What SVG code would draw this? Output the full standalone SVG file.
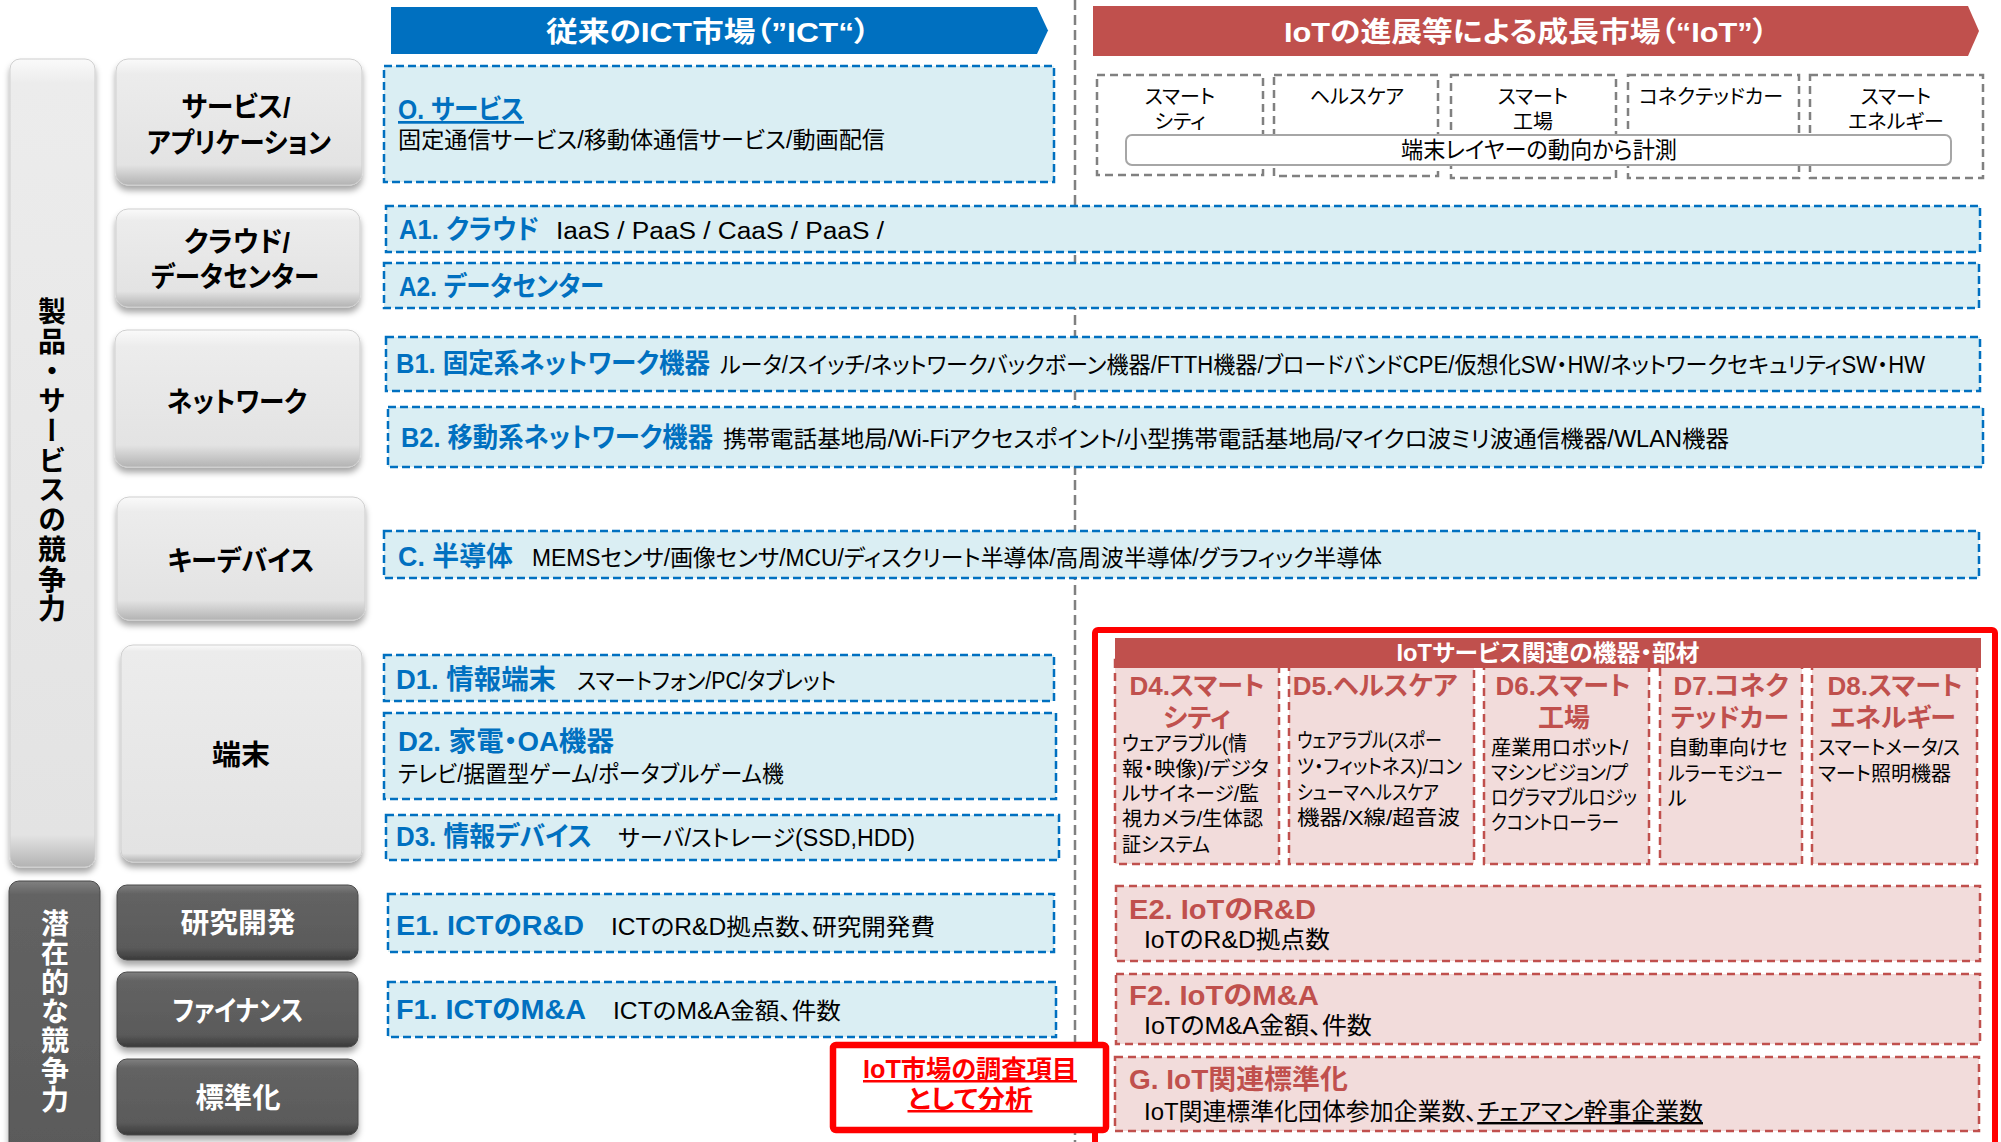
<svg xmlns="http://www.w3.org/2000/svg" width="2001" height="1142" viewBox="0 0 2001 1142">
<defs>
<linearGradient id="gL" x1="0" y1="0" x2="0" y2="1">
<stop offset="0" stop-color="#fafafa"/><stop offset="0.12" stop-color="#ececec"/><stop offset="0.84" stop-color="#e3e3e3"/><stop offset="1" stop-color="#b3b3b3"/>
</linearGradient>
<linearGradient id="gLT" x1="0" y1="0" x2="0" y2="1">
<stop offset="0" stop-color="#fafafa"/><stop offset="0.03" stop-color="#ececec"/><stop offset="0.96" stop-color="#e3e3e3"/><stop offset="1" stop-color="#b3b3b3"/>
</linearGradient>
<linearGradient id="gD" x1="0" y1="0" x2="0" y2="1">
<stop offset="0" stop-color="#808080"/><stop offset="0.12" stop-color="#636363"/><stop offset="0.84" stop-color="#5a5a5a"/><stop offset="1" stop-color="#3a3a3a"/>
</linearGradient>
<linearGradient id="gDT" x1="0" y1="0" x2="0" y2="1">
<stop offset="0" stop-color="#808080"/><stop offset="0.05" stop-color="#636363"/><stop offset="1" stop-color="#5a5a5a"/>
</linearGradient>
<filter id="sh" x="-10%" y="-10%" width="120%" height="130%">
<feDropShadow dx="0" dy="5" stdDeviation="3" flood-color="#000" flood-opacity="0.35"/>
</filter>
</defs>
<style>
text{font-family:"Liberation Sans","Noto Sans CJK JP",sans-serif;font-feature-settings:"palt";}
.lbl{font-size:28px;font-weight:700;text-anchor:middle;fill:#000}
.lblw{font-size:28px;font-weight:700;text-anchor:middle;fill:#fff}
.vt{font-family:"Noto Sans CJK JP",sans-serif;writing-mode:vertical-rl;font-feature-settings:normal;text-anchor:middle;font-size:28px;font-weight:700}
.btnL{fill:url(#gL);stroke:#cfcfcf;stroke-width:1;filter:url(#sh)}
.btnLT{fill:url(#gLT);stroke:#cfcfcf;stroke-width:1;filter:url(#sh)}
.btnD{fill:url(#gD);stroke:#4a4a4a;stroke-width:1;filter:url(#sh)}
.bb{fill:#DAEEF3;stroke:#0070C0;stroke-width:2.5;stroke-dasharray:8 4}
.pb{fill:#F2DCDB;stroke:#C0504D;stroke-width:2.5;stroke-dasharray:8 5}
.gb{fill:#fff;stroke:#808080;stroke-width:2.5;stroke-dasharray:8 5}
.bt{font-size:27px;font-weight:700;fill:#0070C0}
.bd{font-size:23px;fill:#000}
.rt{font-size:27px;font-weight:700;fill:#C0504D}
.rtc{font-size:26px;font-weight:700;fill:#C0504D;text-anchor:middle}
.rd{font-size:24px;fill:#000}
.db{font-size:20px;fill:#000}
.cat{font-size:20px;text-anchor:middle;fill:#000}
.hd{font-size:28px;font-weight:700;fill:#fff;text-anchor:middle}
.ul{text-decoration:underline}
</style>
<rect x="0" y="0" width="2001" height="1142" fill="#fff"/>

<g id="divider">
<line x1="1075" y1="0" x2="1075" y2="1142" stroke="#808080" stroke-width="2.5" stroke-dasharray="10 5"/>
</g>

<g id="header-ict">
<polygon points="391,7 1037,7 1048,30.5 1037,54 391,54" fill="#0070C0"/>
<text class="hd" x="708" y="42" textLength="324" lengthAdjust="spacingAndGlyphs">従来のICT市場（”ICT“）</text>
</g>
<g id="header-iot">
<polygon points="1093,6 1968,6 1979,31 1968,56 1093,56" fill="#C0504D"/>
<text class="hd" x="1526" y="42" textLength="484" lengthAdjust="spacingAndGlyphs">IoTの進展等による成長市場（“IoT”）</text>
</g>

<g id="cat-products">
<rect class="btnLT" x="10" y="59" width="85" height="808" rx="10"/>
<text class="vt" x="52" y="461" style="letter-spacing:1.7px">製品・サービスの競争力</text>
</g>
<g id="cat-potential">
<rect class="btnD" x="9" y="881" width="91" height="275" rx="10" style="fill:url(#gDT)"/>
<text class="vt" x="55" y="1012" fill="#fff" style="letter-spacing:1.3px">潜在的な競争力</text>
</g>

<g id="lbl-service">
<rect class="btnL" x="116" y="59" width="246" height="126" rx="12"/>
<text class="lbl" x="236" y="117" textLength="109" lengthAdjust="spacingAndGlyphs">サービス/</text>
<text class="lbl" x="239" y="153" textLength="184" lengthAdjust="spacingAndGlyphs">アプリケーション</text>
</g>
<g id="lbl-cloud">
<rect class="btnL" x="116" y="209" width="244" height="98" rx="12"/>
<text class="lbl" x="237" y="252" textLength="106" lengthAdjust="spacingAndGlyphs">クラウド/</text>
<text class="lbl" x="235" y="287" textLength="168" lengthAdjust="spacingAndGlyphs">データセンター</text>
</g>
<g id="lbl-network">
<rect class="btnL" x="115" y="330" width="245" height="137" rx="12"/>
<text class="lbl" x="237" y="412" textLength="140" lengthAdjust="spacingAndGlyphs">ネットワーク</text>
</g>
<g id="lbl-keydevice">
<rect class="btnL" x="117" y="497" width="248" height="123" rx="12"/>
<text class="lbl" x="241" y="571" textLength="147" lengthAdjust="spacingAndGlyphs">キーデバイス</text>
</g>
<g id="lbl-terminal">
<rect class="btnLT" x="121" y="645" width="241" height="217" rx="12"/>
<text class="lbl" x="241" y="765" textLength="58" lengthAdjust="spacingAndGlyphs">端末</text>
</g>
<g id="lbl-rd">
<rect class="btnD" x="117" y="885" width="241" height="75" rx="10"/>
<text class="lblw" x="238" y="933" textLength="115" lengthAdjust="spacingAndGlyphs">研究開発</text>
</g>
<g id="lbl-finance">
<rect class="btnD" x="117" y="972" width="241" height="75" rx="10"/>
<text class="lblw" x="238" y="1021" textLength="131" lengthAdjust="spacingAndGlyphs">ファイナンス</text>
</g>
<g id="lbl-standard">
<rect class="btnD" x="117" y="1059" width="241" height="76" rx="10"/>
<text class="lblw" x="238" y="1108" textLength="85" lengthAdjust="spacingAndGlyphs">標準化</text>
</g>

<g id="O">
<rect class="bb" x="384" y="66" width="670" height="116"/>
<text class="bt ul" x="398" y="119" textLength="126" lengthAdjust="spacingAndGlyphs">O. サービス</text>
<text class="bd" x="398" y="148" textLength="487" lengthAdjust="spacingAndGlyphs">固定通信サービス/移動体通信サービス/動画配信</text>
</g>
<g id="A1">
<rect class="bb" x="386" y="206" width="1594" height="46"/>
<text class="bt" x="399" y="239" textLength="140" lengthAdjust="spacingAndGlyphs">A1. クラウド</text>
<text class="bd" x="556" y="239" textLength="328" lengthAdjust="spacingAndGlyphs">IaaS / PaaS / CaaS / PaaS /</text>
</g>
<g id="A2">
<rect class="bb" x="384" y="263" width="1595" height="45"/>
<text class="bt" x="399" y="296" textLength="205" lengthAdjust="spacingAndGlyphs">A2. データセンター</text>
</g>
<g id="B1">
<rect class="bb" x="386" y="337" width="1594" height="54"/>
<text class="bt" x="396" y="373" textLength="314" lengthAdjust="spacingAndGlyphs">B1. 固定系ネットワーク機器</text>
<text class="bd" x="720" y="373" textLength="1205" lengthAdjust="spacingAndGlyphs">ルータ/スイッチ/ネットワークバックボーン機器/FTTH機器/ブロードバンドCPE/仮想化SW・HW/ネットワークセキュリティSW・HW</text>
</g>
<g id="B2">
<rect class="bb" x="388" y="407" width="1595" height="60"/>
<text class="bt" x="401" y="447" textLength="312" lengthAdjust="spacingAndGlyphs">B2. 移動系ネットワーク機器</text>
<text class="bd" x="723" y="447" textLength="1006" lengthAdjust="spacingAndGlyphs">携帯電話基地局/Wi-Fiアクセスポイント/小型携帯電話基地局/マイクロ波ミリ波通信機器/WLAN機器</text>
</g>
<g id="C">
<rect class="bb" x="384" y="531" width="1595" height="47"/>
<text class="bt" x="398" y="566" textLength="115" lengthAdjust="spacingAndGlyphs">C. 半導体</text>
<text class="bd" x="532" y="566" textLength="850" lengthAdjust="spacingAndGlyphs">MEMSセンサ/画像センサ/MCU/ディスクリート半導体/高周波半導体/グラフィック半導体</text>
</g>
<g id="D1">
<rect class="bb" x="384" y="655" width="670" height="46"/>
<text class="bt" x="396" y="689" textLength="160" lengthAdjust="spacingAndGlyphs">D1. 情報端末</text>
<text class="bd" x="577" y="689" textLength="259" lengthAdjust="spacingAndGlyphs">スマートフォン/PC/タブレット</text>
</g>
<g id="D2">
<rect class="bb" x="384" y="713" width="672" height="86"/>
<text class="bt" x="398" y="751" textLength="216" lengthAdjust="spacingAndGlyphs">D2. 家電・OA機器</text>
<text class="bd" x="398" y="782" textLength="386" lengthAdjust="spacingAndGlyphs">テレビ/据置型ゲーム/ポータブルゲーム機</text>
</g>
<g id="D3">
<rect class="bb" x="386" y="815" width="673" height="45"/>
<text class="bt" x="396" y="846" textLength="196" lengthAdjust="spacingAndGlyphs">D3. 情報デバイス</text>
<text class="bd" x="618" y="846" textLength="297" lengthAdjust="spacingAndGlyphs">サーバ/ストレージ(SSD,HDD)</text>
</g>
<g id="E1">
<rect class="bb" x="388" y="894" width="666" height="58"/>
<text class="bt" x="396" y="935" textLength="188" lengthAdjust="spacingAndGlyphs">E1. ICTのR&amp;D</text>
<text class="bd" x="611" y="935" textLength="324" lengthAdjust="spacingAndGlyphs">ICTのR&amp;D拠点数、研究開発費</text>
</g>
<g id="F1">
<rect class="bb" x="388" y="982" width="668" height="55"/>
<text class="bt" x="396" y="1019" textLength="190" lengthAdjust="spacingAndGlyphs">F1. ICTのM&amp;A</text>
<text class="bd" x="613" y="1019" textLength="228" lengthAdjust="spacingAndGlyphs">ICTのM&amp;A金額、件数</text>
</g>

<g id="iot-markets">
<rect class="gb" x="1097" y="75" width="166" height="100"/>
<rect class="gb" x="1274" y="75" width="164" height="101"/>
<rect class="gb" x="1451" y="75" width="165" height="103"/>
<rect class="gb" x="1628" y="75" width="171" height="103"/>
<rect class="gb" x="1810" y="75" width="173" height="103"/>
<text class="cat" x="1180" y="104">スマート</text>
<text class="cat" x="1180" y="129">シティ</text>
<text class="cat" x="1357" y="104">ヘルスケア</text>
<text class="cat" x="1533" y="104">スマート</text>
<text class="cat" x="1533" y="129">工場</text>
<text class="cat" x="1711" y="104">コネクテッドカー</text>
<text class="cat" x="1896" y="104">スマート</text>
<text class="cat" x="1896" y="129">エネルギー</text>
</g>
<g id="measure-note">
<rect x="1126" y="135" width="825" height="30" rx="6" fill="#fff" stroke="#a6a6a6" stroke-width="2"/>
<text x="1539" y="158" font-size="23" text-anchor="middle" textLength="276" lengthAdjust="spacingAndGlyphs">端末レイヤーの動向から計測</text>
</g>

<g id="iot-scope">
<rect x="1095" y="630" width="900" height="530" rx="3" fill="#fff" stroke="#FF0000" stroke-width="6"/>
</g>

<g id="D4">
<rect class="pb" x="1115" y="660" width="164" height="204"/>
<text class="rtc" x="1197" y="695">D4.スマート</text>
<text class="rtc" x="1197" y="727">シティ</text>
<text class="db" x="1122" y="751" textLength="125" lengthAdjust="spacingAndGlyphs">ウェアラブル(情</text>
<text class="db" x="1122" y="776" textLength="147" lengthAdjust="spacingAndGlyphs">報・映像)/デジタ</text>
<text class="db" x="1122" y="801" textLength="137" lengthAdjust="spacingAndGlyphs">ルサイネージ/監</text>
<text class="db" x="1122" y="826" textLength="141" lengthAdjust="spacingAndGlyphs">視カメラ/生体認</text>
<text class="db" x="1122" y="852" textLength="88" lengthAdjust="spacingAndGlyphs">証システム</text>
</g>
<g id="D5">
<rect class="pb" x="1289" y="660" width="185" height="204"/>
<text class="rtc" x="1375" y="695">D5.ヘルスケア</text>
<text class="db" x="1297" y="748" textLength="145" lengthAdjust="spacingAndGlyphs">ウェアラブル(スポー</text>
<text class="db" x="1297" y="774" textLength="165" lengthAdjust="spacingAndGlyphs">ツ・フィットネス)/コン</text>
<text class="db" x="1297" y="800" textLength="142" lengthAdjust="spacingAndGlyphs">シューマヘルスケア</text>
<text class="db" x="1297" y="825" textLength="163" lengthAdjust="spacingAndGlyphs">機器/X線/超音波</text>
</g>
<g id="D6">
<rect class="pb" x="1484" y="660" width="165" height="204"/>
<text class="rtc" x="1563" y="695">D6.スマート</text>
<text class="rtc" x="1564" y="727">工場</text>
<text class="db" x="1491" y="755" textLength="137" lengthAdjust="spacingAndGlyphs">産業用ロボット/</text>
<text class="db" x="1491" y="780" textLength="137" lengthAdjust="spacingAndGlyphs">マシンビジョン/プ</text>
<text class="db" x="1491" y="805" textLength="146" lengthAdjust="spacingAndGlyphs">ログラマブルロジッ</text>
<text class="db" x="1491" y="830" textLength="128" lengthAdjust="spacingAndGlyphs">クコントローラー</text>
</g>
<g id="D7">
<rect class="pb" x="1660" y="660" width="142" height="204"/>
<text class="rtc" x="1731" y="695">D7.コネク</text>
<text class="rtc" x="1730" y="727">テッドカー</text>
<text class="db" x="1668" y="755" textLength="120" lengthAdjust="spacingAndGlyphs">自動車向けセ</text>
<text class="db" x="1668" y="781" textLength="115" lengthAdjust="spacingAndGlyphs">ルラーモジュー</text>
<text class="db" x="1668" y="806">ル</text>
</g>
<g id="D8">
<rect class="pb" x="1812" y="660" width="165" height="204"/>
<text class="rtc" x="1895" y="695">D8.スマート</text>
<text class="rtc" x="1893" y="727">エネルギー</text>
<text class="db" x="1818" y="755" textLength="142" lengthAdjust="spacingAndGlyphs">スマートメータ/ス</text>
<text class="db" x="1818" y="781" textLength="133" lengthAdjust="spacingAndGlyphs">マート照明機器</text>
</g>
<g id="iot-devices-header">
<rect x="1115" y="638" width="866" height="30" fill="#C0504D"/>
<text x="1548" y="661" font-size="23" font-weight="700" fill="#fff" text-anchor="middle" textLength="303" lengthAdjust="spacingAndGlyphs">IoTサービス関連の機器・部材</text>
</g>

<g id="E2">
<rect class="pb" x="1116" y="886" width="864" height="75"/>
<text class="rt" x="1129" y="919" textLength="187" lengthAdjust="spacingAndGlyphs">E2. IoTのR&amp;D</text>
<text class="rd" x="1144" y="948" textLength="186" lengthAdjust="spacingAndGlyphs">IoTのR&amp;D拠点数</text>
</g>
<g id="F2">
<rect class="pb" x="1116" y="974" width="864" height="70"/>
<text class="rt" x="1129" y="1005" textLength="190" lengthAdjust="spacingAndGlyphs">F2. IoTのM&amp;A</text>
<text class="rd" x="1144" y="1034" textLength="228" lengthAdjust="spacingAndGlyphs">IoTのM&amp;A金額、件数</text>
</g>
<g id="G">
<rect class="pb" x="1115" y="1057" width="864" height="74"/>
<text class="rt" x="1129" y="1089" textLength="219" lengthAdjust="spacingAndGlyphs">G. IoT関連標準化</text>
<text class="rd" x="1144" y="1120" textLength="559" lengthAdjust="spacingAndGlyphs">IoT関連標準化団体参加企業数、<tspan class="ul">チェアマン幹事企業数</tspan></text>
</g>

<g id="iot-note">
<rect x="833" y="1045" width="273" height="85" rx="3" fill="#fff" stroke="#FF0000" stroke-width="6.5"/>
<text class="ul" x="970" y="1078" font-size="25" font-weight="700" fill="#FF0000" text-anchor="middle" textLength="214" lengthAdjust="spacingAndGlyphs">IoT市場の調査項目</text>
<text class="ul" x="970" y="1108" font-size="25" font-weight="700" fill="#FF0000" text-anchor="middle" textLength="125" lengthAdjust="spacingAndGlyphs">として分析</text>
</g>
</svg>
